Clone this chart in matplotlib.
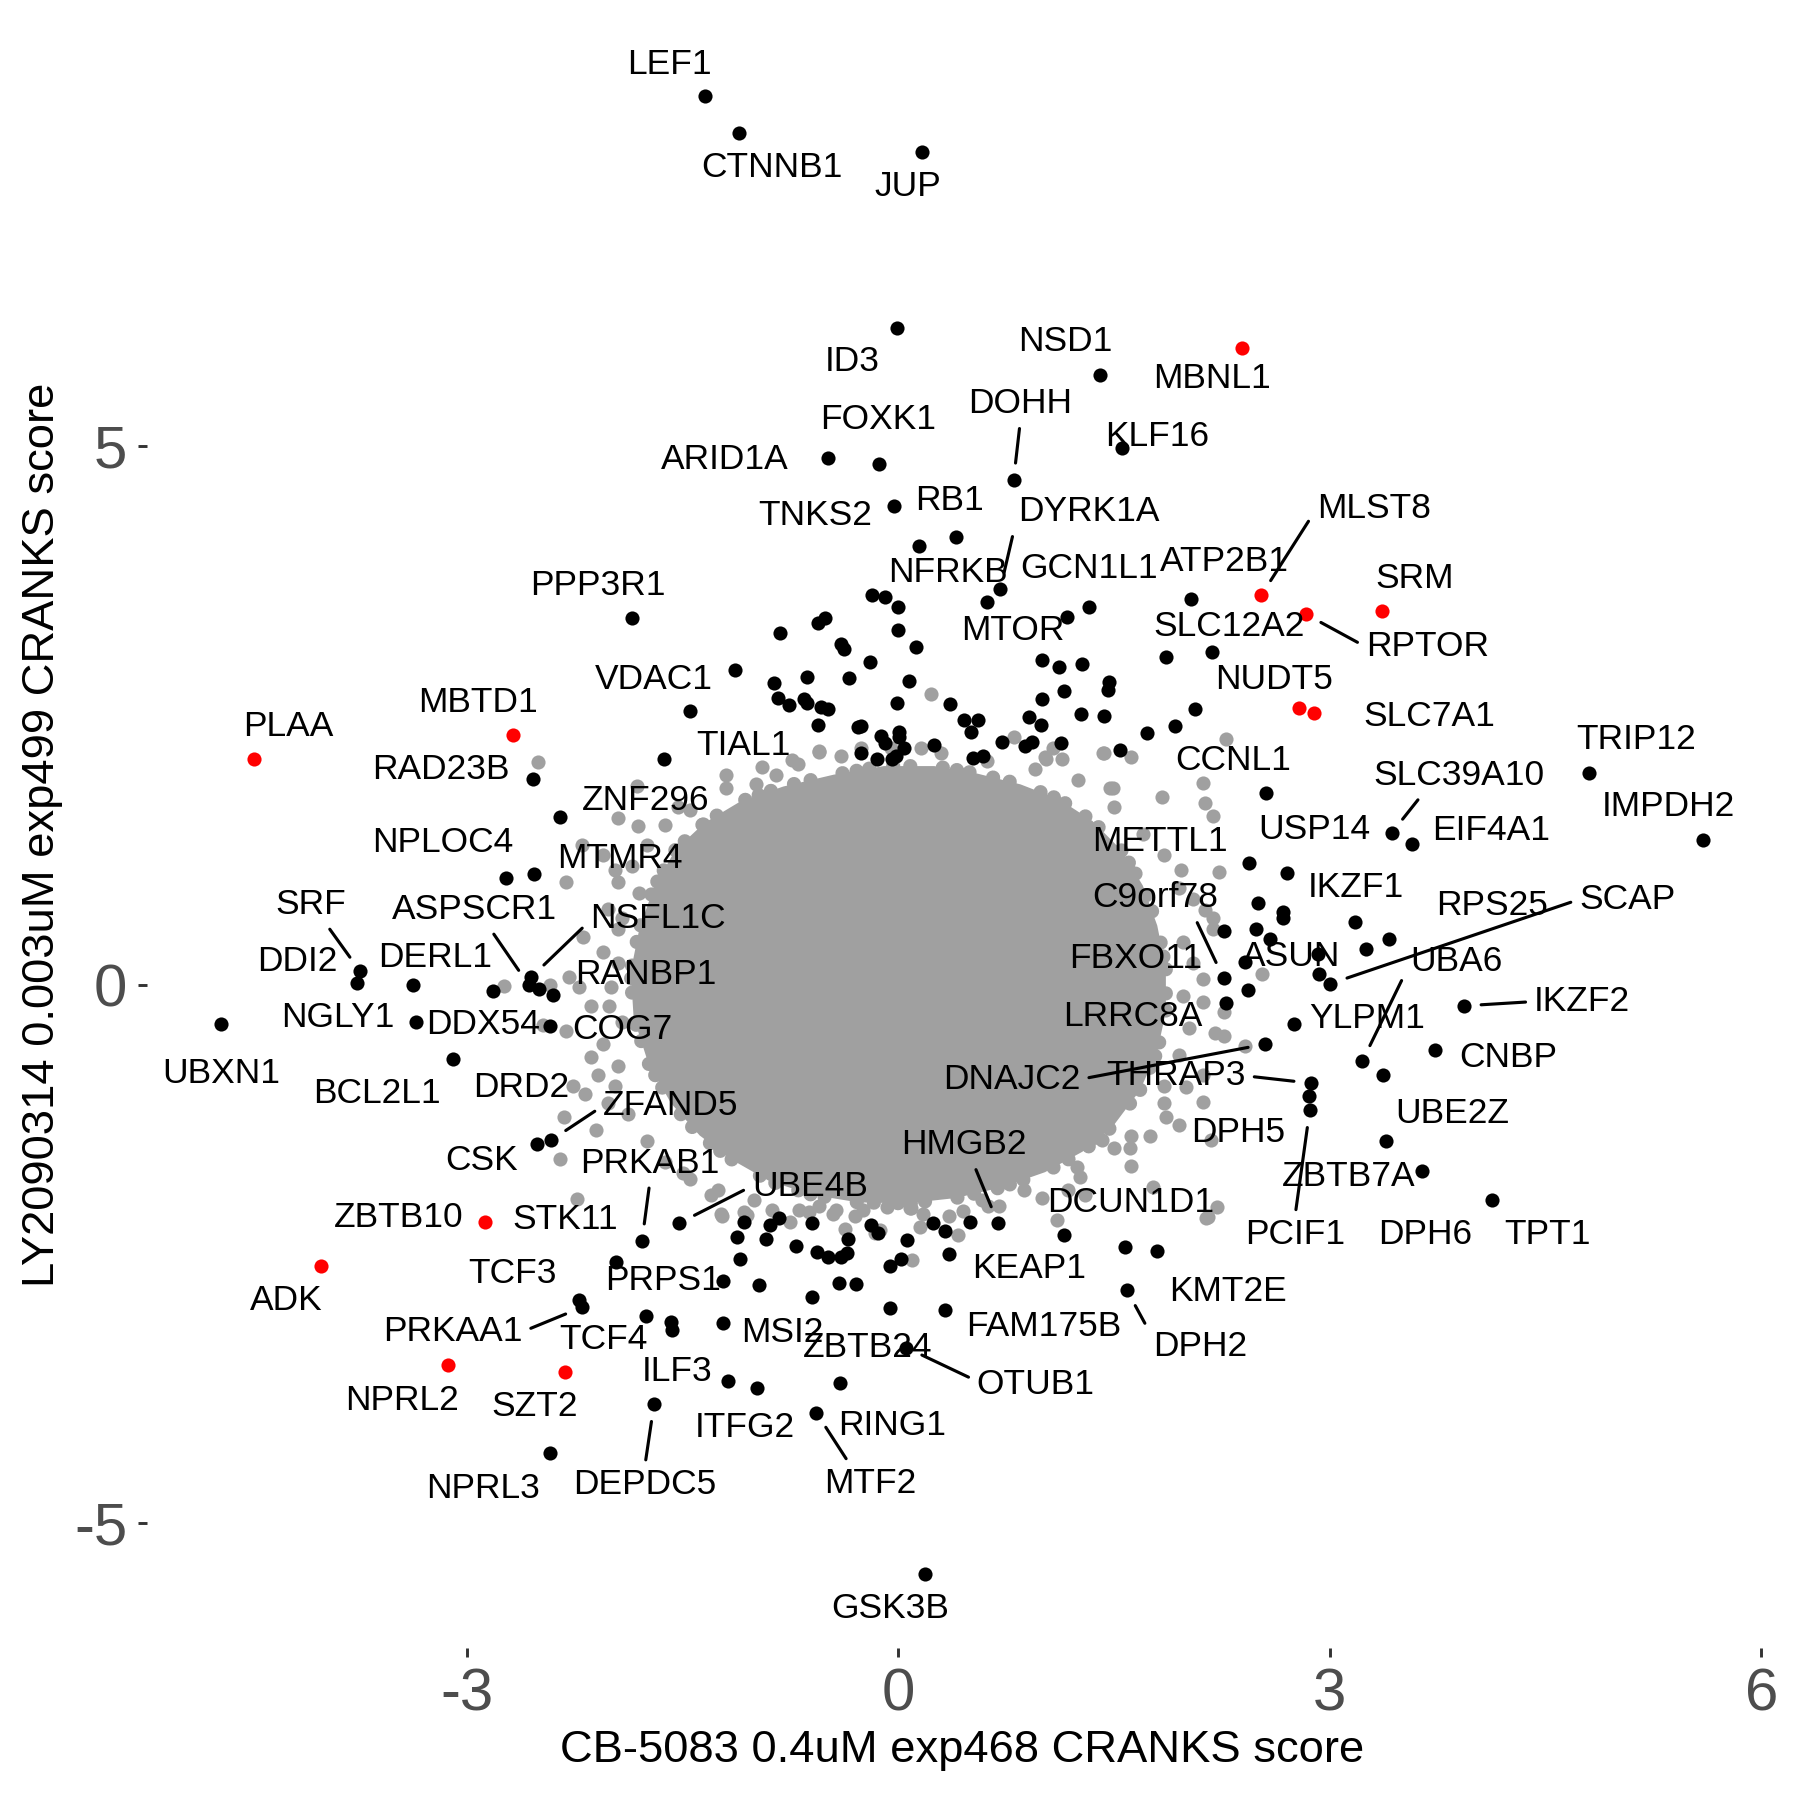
import matplotlib
matplotlib.use("Agg")
import matplotlib.pyplot as plt

plt.rcParams['font.family'] = ['Liberation Sans', 'DejaVu Sans']
plt.rcParams['axes.unicode_minus'] = False

# ---------------- data (CRANKS scores) ----------------
x_title = "CB-5083 0.4uM exp468 CRANKS score"
y_title = "LY2090314 0.003uM exp499 CRANKS score"
x_ticks = [-3, 0, 3, 6]
y_ticks = [-5, 0, 5]

# labelled hits drawn in black
black_genes = ["LEF1", "CTNNB1", "JUP", "ID3", "NSD1", "DOHH", "KLF16", "ARID1A", "FOXK1",
               "TNKS2", "RB1", "NFRKB", "DYRK1A", "MTOR", "GCN1L1", "ATP2B1", "SLC12A2",
               "PPP3R1", "VDAC1", "TIAL1", "CCNL1", "RAD23B", "ZNF296", "NPLOC4", "MTMR4",
               "SLC39A10", "EIF4A1", "TRIP12", "IMPDH2", "USP14", "METTL1", "IKZF1", "RPS25",
               "SCAP", "ASUN", "UBA6", "C9orf78", "FBXO11", "LRRC8A", "YLPM1", "IKZF2", "CNBP",
               "DNAJC2", "THRAP3", "DPH5", "PCIF1", "UBE2Z", "ZBTB7A", "DPH6", "TPT1", "SRF",
               "DDI2", "DERL1", "NGLY1", "DDX54", "ASPSCR1", "NSFL1C", "RANBP1", "COG7", "UBXN1",
               "BCL2L1", "DRD2", "CSK", "ZFAND5", "PRKAB1", "UBE4B", "STK11", "TCF3", "PRKAA1",
               "TCF4", "PRPS1", "MSI2", "ILF3", "ITFG2", "DEPDC5", "NPRL3", "MTF2", "RING1",
               "ZBTB24", "OTUB1", "FAM175B", "KEAP1", "HMGB2", "DCUN1D1", "KMT2E", "DPH2", "GSK3B"]
black_x = [-1.347, -1.107, 0.165, -0.008, 1.400, 0.801, 1.554, -0.487, -0.136,
           -0.029, 0.403, 0.142, 0.708, 0.615, 1.329, 2.036, 2.179,
           -1.850, -1.448, -1.631, 2.558, -2.540, -2.353, -2.730, -2.531,
           3.430, 3.571, 4.800, 5.593, 2.701, 2.440, 3.172, 3.411,
           3.004, 2.919, 3.225, 2.261, 2.432, 2.275, 2.751, 3.930, 3.731,
           2.551, 2.871, 2.857, 2.860, 3.371, 3.390, 3.643, 4.127, -3.741,
           -3.763, -3.371, -3.350, -2.818, -2.570, -2.551, -2.400, -2.419, -4.707,
           -3.097, -2.499, -2.508, -2.413, -1.782, -1.525, -1.962, -2.219, -2.200,
           -1.757, -1.220, -1.220, -1.182, -0.979, -1.698, -2.419, -0.570, -0.402,
           -0.060, 0.054, 0.328, 0.350, 0.692, 1.149, 1.797, 1.589, 0.184]
black_y = [8.247, 7.905, 7.735, 6.097, 5.656, 4.682, 4.984, 4.889, 4.832,
           4.441, 4.153, 4.075, 3.670, 3.550, 3.509, 3.583, 3.091,
           3.404, 2.537, 2.098, 1.776, 1.909, 1.556, 0.988, 1.027,
           1.410, 1.307, 1.965, 1.343, 1.037, 1.126, 0.586, 0.426,
           0.010, 0.284, -0.711, 0.060, -0.046, -0.167, -0.366, -0.196, -0.604,
           -0.551, -0.914, -1.031, -1.165, -0.836, -1.450, -1.731, -1.997, 0.124,
           0.018, 0.000, -0.344, -0.054, 0.000, 0.071, -0.099, -0.381, -0.366,
           -0.693, -0.035, -1.474, -1.443, -2.381, -2.214, -2.576, -2.924, -2.995,
           -3.074, -2.752, -3.136, -3.678, -3.741, -3.894, -4.345, -3.972, -3.700,
           -3.000, -3.368, -3.015, -2.501, -2.211, -2.319, -2.471, -2.836, -5.472]

# labelled hits drawn in red
red_genes = ["MBNL1", "MLST8", "RPTOR", "SRM", "NUDT5", "SLC7A1", "PLAA", "MBTD1",
             "ZBTB10", "ADK", "NPRL2", "SZT2"]
red_x = [2.392, 2.523, 2.831, 3.362, 2.782, 2.891, -4.478, -2.679, -2.871, -4.015, -3.129, -2.318]
red_y = [5.908, 3.615, 3.441, 3.466, 2.571, 2.525, 2.097, 2.317, -2.202, -2.611, -3.528, -3.599]

# unlabelled hits (black)
hit_x = [-0.181, -0.094, 0.000, 0.000, 0.120, -0.509, -0.558, -0.819, -0.400, -0.380,
         -0.198, -0.340, 0.072, -0.862, -0.638, -0.837, -0.757, -0.658, -0.633, -0.539,
         -0.492, -0.558, -0.010, 0.360, 0.460, 0.551, 0.502, 0.912, 0.993, 1.000, 1.000,
         -0.280, -0.256, -0.119, -0.094, 0.005, 0.005, 0.042, 0.248, 0.720, 0.880, 0.930,
         -0.149, -0.045, -0.019, 0.522, 0.589, -0.261, 1.171, 1.120, 1.280, 1.468, 1.456,
         1.150, 1.271, 1.431, 1.132, 1.542, 1.862, 2.061, 1.920, 1.730, -1.135,
         2.499, 2.674, 2.674, 2.261, 2.487, 2.581, 3.252, 2.413, 2.924,
         -1.572, -1.581, -0.965, -1.102, -1.118, -1.076, -0.917, -0.895, -0.831, -0.713,
         -0.601, -0.601, -0.566, -0.486, -0.400, -0.358, -0.352, -0.410, -0.295, -0.193,
         -0.138, -0.055, 0.022, 0.063, 0.239, 0.328, 0.501, 1.573]
hit_y = [3.614, 3.599, 3.503, 3.295, 3.135, 3.407, 3.360, 3.265, 3.165, 3.113,
         2.993, 2.844, 2.822, 2.803, 2.856, 2.664, 2.593, 2.652, 2.615, 2.578,
         2.556, 2.413, 2.617, 2.605, 2.457, 2.457, 2.343, 2.482, 2.407, 2.652, 3.014,
         2.389, 2.404, 2.311, 2.240, 2.343, 2.302, 2.194, 2.222, 2.255, 2.220, 2.250,
         2.095, 2.095, 2.125, 2.101, 2.123, 2.148, 3.413, 2.946, 2.977, 2.812, 2.735,
         2.723, 2.510, 2.494, 2.240, 2.178, 3.039, 2.556, 2.404, 2.339, 2.924,
         0.757, 0.675, 0.622, 0.498, 0.515, 0.426, 0.331, 0.213, 0.096,
         -3.201, -3.130, -2.789, -2.548, -2.340, -2.201, -2.362, -2.232, -2.164, -2.427,
         -2.211, -2.898, -2.480, -2.532, -2.526, -2.486, -2.356, -2.768, -2.774, -2.232,
         -2.304, -2.610, -2.548, -2.365, -2.211, -2.285, -2.201, -2.434]

# background genes: the over-plotted core traced as an outline, plus the visible outer points
core_x = [-1.55, -1.35, -1.10, -0.80, -0.45, -0.10, 0.25, 0.55, 0.85, 1.12, 1.35, 1.55,
          1.70, 1.80, 1.86, 1.86, 1.80, 1.68, 1.50, 1.28, 1.02, 0.72, 0.40, 0.06, -0.28,
          -0.60, -0.90, -1.15, -1.38, -1.58, -1.74, -1.84, -1.86, -1.80, -1.70]
core_y = [1.25, 1.50, 1.70, 1.84, 1.95, 2.03, 2.03, 1.96, 1.86, 1.72, 1.52, 1.25,
          0.92, 0.55, 0.15, -0.25, -0.62, -0.98, -1.30, -1.55, -1.74, -1.88, -1.98, -2.03, -2.02,
          -1.95, -1.82, -1.63, -1.40, -1.10, -0.72, -0.30, 0.12, 0.52, 0.90]
gray_x = [-2.504, -2.200, -2.312, -2.193, -2.738, -2.419, -2.286, -2.219, -2.139, -2.472,
          -2.312, -2.139, -2.086, -2.259, -2.179, -2.325, -2.353, -2.232,
          0.229, -0.554, 0.161, 0.807, -1.813, -0.740, -0.261,
          2.279, 1.433, 1.619, 1.028, 1.139, 1.074, 1.491, 2.117,
          2.134, 2.187, 2.232, 2.134, 2.187, 2.187, 2.528, 2.120, 2.120, 2.267, 2.200, 2.267,
          2.413, 2.120, 2.120, 2.174, 2.152, 2.213,
          -1.230, -1.070, -0.879, -0.688, -0.432, -0.368, -0.129, 0.095, -0.081, 0.079, 0.175,
          0.414, 1.101, 0.877, 1.181, 1.771, 2.138, 1.244, 1.260, 1.611, 1.419,
          -0.549, 1.017, 1.421, 1.834, 1.474, -1.200, -0.987, -1.533, -1.360, -1.812, -1.946,
          -1.972, -1.799, -1.946, -1.999, -2.012, -1.972, -1.254,
          1.967, 1.780, 1.860, 1.621, 1.501, 1.847,
          -1.227, -1.054, -0.620, -0.549, -0.455, -0.242, -0.163, 0.090, 0.152, 0.583, 0.623,
          -2.05, -1.95, -2.02, -1.92, -2.05, -1.95, -1.92, -2.05, -1.95, -2.02, -1.88, -1.75,
          -1.62, -1.45, -2.10, -1.85, -1.75, -1.62, -1.45,
          -1.20, -0.95, -0.70, -0.40, -0.05, 0.30, 0.62, 0.95, 1.25, 1.50, -0.85,
          1.70, 1.85, 1.95, 2.05, 1.98, 2.05, 1.98, 2.02, 1.95, 2.00, 1.85, 1.75, 1.95, 1.62,
          1.30, 1.00, 0.70, 0.35, -0.30, -0.75, -1.00, -1.30, -1.50, 0.45]
gray_y = [2.068, 1.297, 0.953, 0.444, -0.007, 0.000, 0.071, -0.018, -0.196, -0.373,
          -0.426, -0.675, -0.836, -0.941, -1.013, -1.226, -1.617, -1.990,
          2.698, 2.157, 2.194, 2.302, 1.847, 2.086, 2.194,
          2.277, 2.147, 2.110, 2.092, 2.092, 2.194, 1.823, 1.869,
          1.688, 1.564, 1.048, 0.693, 0.622, 0.515, 0.096, 0.053, -0.160, -0.249, -0.445, -0.480,
          -0.568, -0.836, -1.084, -1.439, -2.160, -2.064,
          -2.124, -2.109, -2.093, -2.093, -2.093, -2.263, -2.279, -2.557, -2.062, -2.077, -2.124,
          -2.325, -2.186, -1.907, -1.907, -1.877, -2.170, -1.691, -1.784, -1.520, -1.443,
          2.167, 2.114, 2.149, 1.741, 1.830, 1.830, 1.865, 1.652, 1.492, 1.474, 1.546,
          1.066, 0.852, 0.515, -0.018, -0.196, -0.941, -1.902,
          1.066, -0.018, -1.226, -1.404, -1.511, -0.941,
          -2.150, -2.135, -2.107, -2.053, -2.124, -2.089, -2.302, -2.071, -2.249, -2.000, -2.053,
          1.20, 0.95, 0.70, 0.62, 0.30, 0.20, -0.35, -0.55, -0.75, -1.10, -1.20, -1.45,
          -1.65, -1.80, -1.35, 1.10, 1.30, 1.48, 1.62,
          1.95, 2.02, 2.05, 2.12, 2.20, 2.15, 2.08, 2.00, 1.90, 1.65, 1.95,
          1.40, 1.20, 0.90, 0.80, 0.40, 0.20, -0.10, -0.40, -0.65, -0.95, -1.10, -1.40, -1.30, -1.68,
          -1.95, -1.98, -2.05, -2.15, -2.15, -2.20, -2.00, -1.95, -1.75, -2.10]

# ---------------- layout of the repelled labels (text centres, data units) ----------------
label_pos = {
    "LEF1": (-1.592, 8.545), "CTNNB1": (-0.876, 7.590), "JUP": (0.063, 7.411),
    "ID3": (-0.322, 5.784), "NSD1": (1.163, 5.968), "MBNL1": (2.184, 5.624),
    "DOHH": (0.849, 5.394), "KLF16": (1.800, 5.090), "FOXK1": (-0.141, 5.244),
    "ARID1A": (-1.206, 4.878), "TNKS2": (-0.575, 4.356), "RB1": (0.357, 4.498),
    "DYRK1A": (1.323, 4.391), "NFRKB": (0.343, 3.830), "GCN1L1": (1.329, 3.865),
    "ATP2B1": (2.268, 3.927), "MLST8": (3.305, 4.424), "SRM": (3.592, 3.770),
    "PPP3R1": (-2.086, 3.704), "MTOR": (0.796, 3.287), "SLC12A2": (2.302, 3.328),
    "RPTOR": (3.677, 3.137), "VDAC1": (-1.696, 2.838), "NUDT5": (2.615, 2.835),
    "SLC7A1": (3.691, 2.487), "TIAL1": (-1.075, 2.218), "MBTD1": (-2.924, 2.618),
    "PLAA": (-4.242, 2.398), "RAD23B": (-3.177, 2.000), "CCNL1": (2.326, 2.085),
    "TRIP12": (5.128, 2.274), "SLC39A10": (3.896, 1.947), "IMPDH2": (5.354, 1.652),
    "ZNF296": (-1.757, 1.712), "USP14": (2.892, 1.439), "EIF4A1": (4.122, 1.428),
    "NPLOC4": (-3.169, 1.321), "METTL1": (1.816, 1.332), "MTMR4": (-1.932, 1.169),
    "IKZF1": (3.179, 0.899), "SRF": (-4.082, 0.746), "ASPSCR1": (-2.943, 0.700),
    "NSFL1C": (-1.668, 0.615), "C9orf78": (1.788, 0.807), "RPS25": (4.130, 0.739),
    "SCAP": (5.067, 0.792), "DDI2": (-4.181, 0.213), "DERL1": (-3.217, 0.249),
    "FBXO11": (1.652, 0.241), "ASUN": (2.732, 0.266), "UBA6": (3.877, 0.213),
    "RANBP1": (-1.757, 0.092), "NGLY1": (-3.896, -0.302), "DDX54": (-2.885, -0.373),
    "COG7": (-1.916, -0.420), "LRRC8A": (1.629, -0.292), "YLPM1": (3.259, -0.313),
    "IKZF2": (4.752, -0.156), "UBXN1": (-4.707, -0.825), "BCL2L1": (-3.622, -1.013),
    "DRD2": (-2.618, -0.953), "DNAJC2": (0.790, -0.877), "THRAP3": (1.932, -0.846),
    "CNBP": (4.237, -0.680), "ZFAND5": (-1.581, -1.123), "DPH5": (2.360, -1.369),
    "UBE2Z": (3.849, -1.198), "CSK": (-2.898, -1.635), "PRKAB1": (-1.725, -1.657),
    "HMGB2": (0.455, -1.486), "ZBTB7A": (3.130, -1.780), "UBE4B": (-0.615, -1.869),
    "DCUN1D1": (1.613, -2.018), "ZBTB10": (-3.471, -2.158), "STK11": (-2.315, -2.178),
    "PCIF1": (2.756, -2.318), "DPH6": (3.664, -2.317), "TPT1": (4.510, -2.317),
    "KEAP1": (0.912, -2.638), "ADK": (-4.255, -2.931), "TCF3": (-2.683, -2.682),
    "PRPS1": (-1.637, -2.743), "KMT2E": (2.291, -2.850), "PRKAA1": (-3.097, -3.221),
    "TCF4": (-2.052, -3.297), "MSI2": (-0.804, -3.224), "FAM175B": (1.011, -3.170),
    "ZBTB24": (-0.212, -3.364), "DPH2": (2.099, -3.361), "ILF3": (-1.537, -3.593),
    "OTUB1": (0.956, -3.710), "NPRL2": (-3.451, -3.855), "SZT2": (-2.525, -3.919),
    "ITFG2": (-1.068, -4.107), "RING1": (-0.041, -4.091), "DEPDC5": (-1.764, -4.641),
    "NPRL3": (-2.887, -4.672), "MTF2": (-0.197, -4.630), "GSK3B": (-0.056, -5.795),
}
# labels joined to their point by a segment, with the spot on the label box where it starts
segment_start = {
    "DOHH": (0.5, 0.0), "DYRK1A": (0.0, 0.45), "MLST8": (0.0, 0.5), "RPTOR": (0.0, 0.5),
    "SLC39A10": (0.3, 0.0), "SCAP": (0.0, 0.5), "UBA6": (0.0, 0.45), "IKZF2": (0.0, 0.5),
    "THRAP3": (1.0, 0.5), "PCIF1": (0.5, 1.0), "DNAJC2": (1.0, 0.5), "C9orf78": (0.8, 0.0),
    "HMGB2": (0.57, 0.0), "DPH2": (0.0, 0.75), "OTUB1": (0.0, 0.6), "MTF2": (0.3, 1.0),
    "DEPDC5": (0.5, 1.0), "PRKAB1": (0.5, 0.0), "UBE4B": (0.0, 0.5), "PRKAA1": (1.0, 0.5),
    "ZFAND5": (0.0, 0.5), "SRF": (0.68, 0.0), "ASPSCR1": (0.58, 0.0), "NSFL1C": (0.0, 0.45),
}

# ---------------- drawing ----------------
GRAY = "#A0A0A0"
PT = 11.5
DOT_D = PT ** 0.5          # point diameter in pt
LABEL_SIZE = 8.5

fig = plt.figure(figsize=(6, 6), dpi=300)
fig.patch.set_facecolor("white")
ax = fig.add_axes([0.0817, 0.0844, 0.9056, 0.9031])
ax.set_facecolor("white")

# over-plotted core: filled outline with an uneven beaded rim of point-sized dots
ax.fill(core_x, core_y, color=GRAY, lw=0, zorder=1)
ax.plot(core_x + core_x[:1], core_y + core_y[:1], color=GRAY, lw=DOT_D,
        linestyle=(0, (0.01, 0.9, 0.01, 1.7, 0.01, 1.2, 0.01, 2.3, 0.01, 1.0)),
        dash_capstyle="round", zorder=1)
ax.scatter(gray_x, gray_y, s=PT, c=GRAY, linewidths=0, zorder=2)
ax.scatter(hit_x, hit_y, s=PT, c="black", linewidths=0, zorder=3)
ax.scatter(black_x, black_y, s=PT, c="black", linewidths=0, zorder=3)
ax.scatter(red_x, red_y, s=PT, c="red", linewidths=0, zorder=4)

points = {g: (x, y) for g, x, y in zip(black_genes, black_x, black_y)}
points.update({g: (x, y) for g, x, y in zip(red_genes, red_x, red_y)})

for gene, (lx, ly) in label_pos.items():
    if gene in segment_start:
        ax.annotate(gene, xy=points[gene], xytext=(lx, ly), ha="center", va="center",
                    fontsize=LABEL_SIZE, color="black", zorder=6,
                    arrowprops=dict(arrowstyle="-", color="black", lw=0.75,
                                    relpos=segment_start[gene],
                                    shrinkA=0.0, shrinkB=4.2))
    else:
        ax.text(lx, ly, gene, ha="center", va="center", fontsize=LABEL_SIZE,
                color="black", zorder=6)

ax.set_xlim(-5.222, 6.109)
ax.set_ylim(-6.158, 8.933)
ax.set_xticks(x_ticks)
ax.set_yticks(y_ticks)
for s in ax.spines.values():
    s.set_visible(False)
ax.tick_params(length=2.2, width=0.7, color="#333333", labelcolor="#4D4D4D",
               labelsize=14.4, pad=2.5)

ax.set_xlabel(x_title, fontsize=10.9, color="black")
ax.set_ylabel(y_title, fontsize=10.9, color="black")
ax.xaxis.set_label_coords(0.5, -0.0632)
ax.xaxis.label.set_va("center")
ax.yaxis.set_label_coords(-0.0641, 0.5)
ax.yaxis.label.set_va("center")

fig.savefig("out.png", dpi=300, facecolor="white")
